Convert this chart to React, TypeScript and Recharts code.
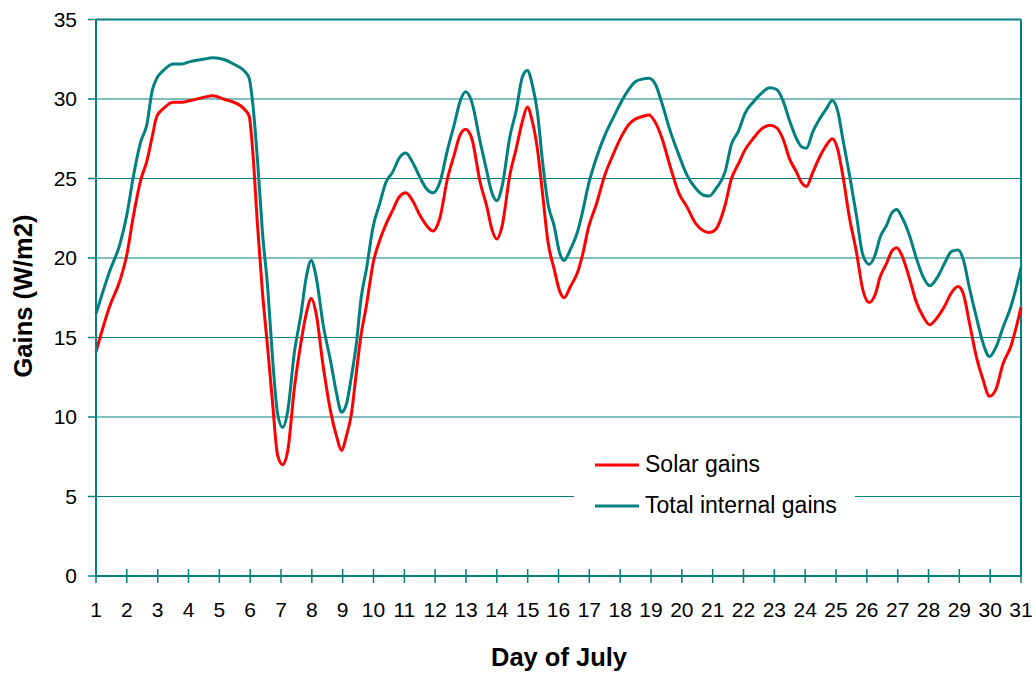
import React from 'react';
import { LineChart, Line, XAxis, YAxis, CartesianGrid, Legend, ReferenceLine } from 'recharts';

const days = [
  1.0, 1.45, 1.78, 2.0, 2.2, 2.45, 2.65, 2.82, 2.97, 3.19, 3.5, 3.78, 4.05, 4.48, 4.8, 5.13, 5.46, 5.84, 5.97,
  6.08, 6.24, 6.4, 6.57, 6.73, 6.89, 7.05, 7.22, 7.43, 7.65, 7.82, 7.98, 8.14, 8.36, 8.63, 8.8, 8.96,
  9.12, 9.28, 9.45, 9.6, 9.77, 9.99, 10.2, 10.4, 10.62, 10.84, 11.05, 11.27, 11.5, 11.7, 11.93,
  12.15, 12.4, 12.62, 12.8, 12.99, 13.19, 13.46, 13.68, 13.84, 14.0, 14.17, 14.42, 14.63, 14.83, 14.99,
  15.15, 15.32, 15.48, 15.66, 15.86, 16.04, 16.18, 16.4, 16.61, 16.78, 16.97, 17.23, 17.5, 17.77,
  18.03, 18.28, 18.5, 18.72, 18.93, 19.15, 19.36, 19.63, 19.9, 20.17, 20.44, 20.71, 20.9, 21.1,
  21.4, 21.61, 21.83, 22.05, 22.31, 22.58, 22.85, 23.07, 23.28, 23.5, 23.72, 23.88, 24.04, 24.25,
  24.47, 24.69, 24.88, 25.06, 25.22, 25.44, 25.66, 25.87, 26.08, 26.27, 26.43, 26.65, 26.8, 26.97,
  27.13, 27.37, 27.61, 27.83, 28.04, 28.26, 28.53, 28.74, 28.96, 29.12, 29.33, 29.55, 29.76, 29.98,
  30.19, 30.41, 30.68, 30.84, 31.0,
];

const solarGains = [
  14.1, 17.0, 18.6, 20.2, 22.5, 24.9, 26.1, 27.6, 28.9, 29.4, 29.8, 29.8, 29.9, 30.1, 30.2, 30.0, 29.8, 29.3, 28.9,
  26.8, 22.0, 17.8, 14.3, 10.8, 7.6, 7.0, 7.9, 11.75, 14.7, 16.5, 17.45, 16.5, 13.3, 10.15, 8.8, 7.9,
  8.8, 10.15, 12.9, 15.2, 17.0, 19.7, 21.1, 22.1, 23.0, 23.85, 24.1, 23.6, 22.7, 22.1, 21.7,
  22.5, 25.0, 26.5, 27.7, 28.1, 27.5, 24.75, 23.2, 21.8, 21.2, 22.0, 25.2, 26.9, 28.6, 29.5,
  28.6, 26.8, 24.1, 21.0, 19.3, 17.9, 17.5, 18.25, 19.05, 20.2, 21.9, 23.4, 25.2, 26.5,
  27.6, 28.4, 28.75, 28.9, 29.0, 28.5, 27.5, 25.7, 24.1, 23.2, 22.2, 21.7, 21.6, 21.8,
  23.3, 25.0, 25.9, 26.8, 27.5, 28.1, 28.35, 28.2, 27.5, 26.2, 25.4, 24.75, 24.5, 25.4,
  26.35, 27.1, 27.5, 26.8, 25.2, 22.5, 20.4, 18.0, 17.2, 17.7, 18.8, 19.7, 20.4, 20.65,
  20.2, 18.8, 17.2, 16.3, 15.8, 16.2, 17.0, 17.8, 18.2, 17.8, 15.9, 13.8, 12.4, 11.3,
  11.75, 13.3, 14.5, 15.6, 16.9,
];

const totalGains = [
  16.5, 19.2, 20.9, 22.7, 25.0, 27.3, 28.4, 30.5, 31.3, 31.8, 32.2, 32.2, 32.35, 32.5, 32.6, 32.5, 32.2, 31.7, 31.3,
  29.8, 26.1, 21.6, 18.1, 13.6, 10.2, 9.35, 10.4, 14.0, 16.5, 18.8, 19.85, 18.8, 15.9, 13.3, 11.5, 10.3,
  10.8, 12.5, 14.7, 17.5, 19.3, 22.0, 23.4, 24.75, 25.4, 26.3, 26.6, 26.0, 25.1, 24.4, 24.1,
  24.75, 26.8, 28.4, 29.8, 30.45, 29.8, 27.3, 25.4, 24.1, 23.6, 24.5, 27.6, 29.3, 31.4, 31.8,
  30.9, 29.1, 26.1, 23.4, 22.0, 20.3, 19.85, 20.6, 21.6, 22.9, 24.6, 26.3, 27.7, 28.8,
  29.8, 30.6, 31.1, 31.25, 31.3, 30.9, 29.7, 27.95, 26.5, 25.2, 24.4, 23.95, 23.9, 24.35,
  25.4, 27.15, 27.95, 29.1, 29.8, 30.35, 30.7, 30.6, 29.9, 28.6, 27.5, 27.0, 26.9, 27.95,
  28.75, 29.4, 29.9, 29.2, 27.5, 25.2, 22.7, 20.2, 19.6, 20.2, 21.3, 22.1, 22.8, 23.05,
  22.6, 21.5, 19.96, 18.8, 18.25, 18.7, 19.7, 20.4, 20.5, 19.96, 18.1, 16.3, 14.7, 13.8,
  14.4, 15.6, 17.0, 18.1, 19.4,
];

const dayTicks = [1, 2, 3, 4, 5, 6, 7, 8, 9, 10, 11, 12, 13, 14, 15, 16, 17, 18, 19, 20, 21, 22, 23, 24, 25, 26, 27, 28, 29, 30, 31];
const gainTicks = [0, 5, 10, 15, 20, 25, 30, 35];

const seriesNames = ['Solar gains', 'Total internal gains'];
const xTitle = 'Day of July';
const yTitle = 'Gains (W/m2)';

const TEAL = '#008080';
const RED = '#FF0000';
const FONT = '"Liberation Sans", Arial, sans-serif';

const data = days.map((d, i) => ({ day: d, solar: solarGains[i], total: totalGains[i] }));

const XTick = (props: any) => {
  const { x, y, payload } = props;
  return (
    <g>
      <line x1={x} x2={x} y1={y - 7} y2={y + 7} stroke={TEAL} strokeWidth={1.5} />
      <text x={x} y={y + 41} textAnchor="middle" fontSize={21} fontFamily={FONT} fill="#000">
        {payload.value}
      </text>
    </g>
  );
};

const LegendBox = () => (
  <svg width={281} height={100} style={{ display: 'block' }}>
    <rect x={0} y={0} width={281} height={100} fill="#fff" />
    <line x1={21} x2={65} y1={35} y2={35} stroke={RED} strokeWidth={3} />
    <text x={71} y={42} fontSize={23} fontFamily={FONT} fill="#000">{seriesNames[0]}</text>
    <line x1={21} x2={65} y1={76} y2={76} stroke={TEAL} strokeWidth={3} />
    <text x={71} y={83} fontSize={23} fontFamily={FONT} fill="#000">{seriesNames[1]}</text>
  </svg>
);

export default function App() {
  return (
    <div style={{ position: 'absolute', left: 0, top: 0, width: 1035, height: 673, background: '#fff' }}>
      <LineChart
        width={1035}
        height={673}
        data={data}
        margin={{ top: 19.5, right: 14, bottom: 0, left: 0 }}
      >
        <CartesianGrid horizontal vertical={false} stroke={TEAL} strokeWidth={1} />
        <XAxis
          dataKey="day"
          type="number"
          domain={[1, 31]}
          ticks={dayTicks}
          interval={0}
          height={97}
          axisLine={{ stroke: TEAL, strokeWidth: 2 }}
          tickLine={false}
          tickSize={0}
          tickMargin={0}
          tick={<XTick />}
          label={() => (
            <text x={559} y={666} textAnchor="middle" fontSize={25.5} fontWeight="bold" fontFamily={FONT} fill="#000">
              {xTitle}
            </text>
          )}
        />
        <YAxis
          type="number"
          domain={[0, 35]}
          ticks={gainTicks}
          interval={0}
          width={96}
          axisLine={{ stroke: TEAL, strokeWidth: 2 }}
          tickLine={{ stroke: TEAL, strokeWidth: 1.5 }}
          tickSize={8}
          tickMargin={11}
          tick={{ fontSize: 21, fontFamily: FONT, fill: '#000' }}
          label={() => (
            <text
              x={32}
              y={296}
              transform="rotate(-90 32 296)"
              textAnchor="middle"
              fontSize={25.5}
              fontWeight="bold"
              fontFamily={FONT}
              fill="#000"
            >
              {yTitle}
            </text>
          )}
        />
        <ReferenceLine y={35} stroke={TEAL} strokeWidth={2} />
        <ReferenceLine x={31} stroke={TEAL} strokeWidth={2} />
        <Legend
          layout="vertical"
          align="center"
          verticalAlign="middle"
          wrapperStyle={{ position: 'absolute', left: 574, top: 430, width: 281, height: 100 }}
          content={() => <LegendBox />}
        />
        <Line
          type="monotone"
          dataKey="solar"
          name={seriesNames[0]}
          stroke={RED}
          strokeWidth={3}
          dot={false}
          activeDot={false}
          isAnimationActive={false}
        />
        <Line
          type="monotone"
          dataKey="total"
          name={seriesNames[1]}
          stroke={TEAL}
          strokeWidth={3}
          dot={false}
          activeDot={false}
          isAnimationActive={false}
        />
      </LineChart>
    </div>
  );
}
